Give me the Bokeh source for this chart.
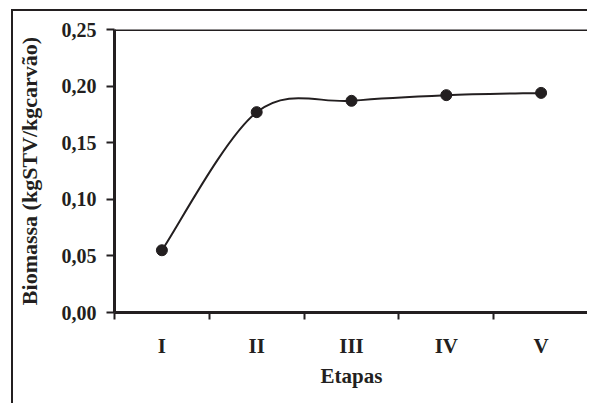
import numpy as np
from bokeh.plotting import figure
from bokeh.models import Range1d, FixedTicker, CustomJSTickFormatter, Span
from bokeh.embed import file_html
from bokeh.resources import INLINE

# ---- data ----
categories = ["I", "II", "III", "IV", "V"]
biomassa = [0.055, 0.177, 0.187, 0.192, 0.194]
y_ticks = [0.0, 0.05, 0.10, 0.15, 0.20, 0.25]
x_title = "Etapas"
y_title = "Biomassa (kgSTV/kgcarvão)"

INK = "#231f20"
FONT = "Liberation Serif"

xc = np.arange(len(categories)) + 0.5
yv = np.array(biomassa)

# Catmull-Rom style smoothing (Bezier control points) through the data
n = len(xc)
xp = np.concatenate([[xc[0]], xc, [xc[-1]]])
yp = np.concatenate([[yv[0]], yv, [yv[-1]]])
x0 = xc[:-1]; y0 = yv[:-1]
x1 = xc[1:]; y1 = yv[1:]
cx0 = xp[1:n] + (xp[2:n + 1] - xp[0:n - 1]) / 6.0
cy0 = yp[1:n] + (yp[2:n + 1] - yp[0:n - 1]) / 6.0
cx1 = xp[2:n + 1] - (xp[3:n + 2] - xp[1:n]) / 6.0
cy1 = yp[2:n + 1] - (yp[3:n + 2] - yp[1:n]) / 6.0

# element offset (margin + border) so the outer chart border sits like the original
OFF_X, OFF_Y = 13, 11
W, H = 576, 394
p = figure(width=W, height=H, output_backend="svg", toolbar_location=None,
           x_range=Range1d(0, 5 * (W - 1 - (114 - OFF_X)) / 474.0), y_range=Range1d(0, 0.25),
           min_border_left=114 - OFF_X, min_border_right=1, min_border_top=29 - OFF_Y,
           min_border_bottom=H - (312 - OFF_Y))
p.margin = (OFF_Y - 2, 0, 0, OFF_X - 2)
p.styles = {"border-left": "2px solid #231f20", "border-top": "2px solid #231f20"}
p.background_fill_color = "white"
p.border_fill_color = "white"
p.outline_line_color = None
p.xgrid.visible = False
p.ygrid.visible = False

p.bezier(x0=x0, y0=y0, x1=x1, y1=y1, cx0=cx0, cy0=cy0, cx1=cx1, cy1=cy1,
         line_color=INK, line_width=2)
p.scatter(xc, yv, size=11, color=INK)

# x axis
xa = p.xaxis[0]
xa.ticker = FixedTicker(ticks=list(xc), minor_ticks=list(range(len(categories) + 1)))
xa.major_label_overrides = {float(x): c for x, c in zip(xc, categories)}
xa.major_tick_out = 0
xa.major_tick_in = 0
xa.minor_tick_out = 7
xa.minor_tick_in = 0
xa.minor_tick_line_width = 2
xa.minor_tick_line_color = INK
xa.axis_line_width = 3
xa.axis_line_color = INK
xa.major_label_text_font = FONT
xa.major_label_text_font_style = "bold"
xa.major_label_text_font_size = "21px"
xa.major_label_text_color = INK
xa.major_label_standoff = 14
xa.axis_label = x_title
xa.axis_label_text_font = FONT
xa.axis_label_text_font_style = "bold"
xa.axis_label_text_font_size = "21px"
xa.axis_label_text_color = INK
xa.axis_label_standoff = 3

# y axis
ya = p.yaxis[0]
ya.ticker = FixedTicker(ticks=y_ticks, minor_ticks=[])
ya.formatter = CustomJSTickFormatter(code="return tick.toFixed(2).replace('.', ',');")
ya.major_tick_out = 8
ya.major_tick_in = 0
ya.major_tick_line_width = 2
ya.major_tick_line_color = INK
ya.axis_line_width = 3
ya.axis_line_color = INK
ya.major_label_text_font = FONT
ya.major_label_text_font_style = "bold"
ya.major_label_text_font_size = "20px"
ya.major_label_text_color = INK
ya.major_label_standoff = 10
ya.axis_label = y_title
ya.axis_label_text_font = FONT
ya.axis_label_text_font_style = "bold"
ya.axis_label_text_font_size = "22px"
ya.axis_label_text_color = INK
ya.axis_label_standoff = 17

# frame top line
p.add_layout(Span(location=0.25, dimension="width", line_color=INK, line_width=3))

open("out.html", "w").write(file_html(p, INLINE))
